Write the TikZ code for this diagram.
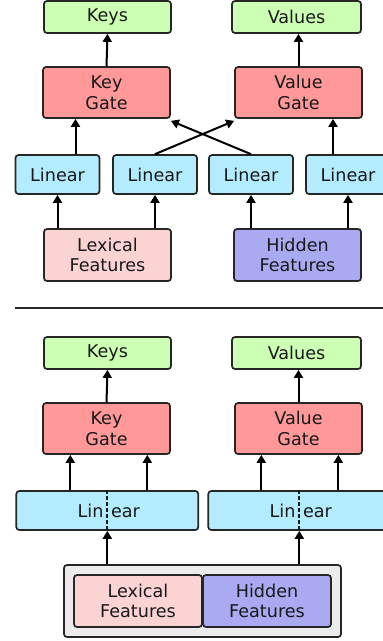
\documentclass[tikz,border=0pt]{standalone}
\usepackage{fontspec}
\setmainfont{DejaVu Sans}
\usetikzlibrary{arrows.meta}
\definecolor{outgreen}{HTML}{CCFFB3}
\definecolor{gatered}{HTML}{FF9999}
\definecolor{lincyan}{HTML}{B3ECFF}
\definecolor{lexpink}{HTML}{FCD3D3}
\definecolor{hidblue}{HTML}{AAAAF2}
\definecolor{grpgray}{HTML}{ECECEC}
\tikzset{
  blk/.style={draw=black!85, line width=1.7pt, rounded corners=3pt, inner sep=0pt,
    align=center, text=black!90, font=\fontsize{17.6}{20.5}\selectfont},
  arr/.style={-{Triangle[width=9pt,length=8pt]}, line width=2pt},
  splitline/.style={line width=1.7pt, dash pattern=on 4pt off 2pt, black!90}
}
\newcommand\splittext{\llap{Lin\kern3.8pt}\rlap{\kern3.8pt ear}}
\begin{document}
\begin{tikzpicture}[x=1pt,y=-1pt]
\useasboundingbox (0,0) rectangle (383,641);
% upper part
\node[blk, fill=outgreen, minimum width=127pt, minimum height=32pt] (keysA) at (107.5,17) {Keys};
\node[blk, fill=outgreen, minimum width=129pt, minimum height=32pt] (valsA) at (296.5,17) {Values};
\node[blk, fill=gatered, minimum width=127pt, minimum height=51pt] (kgateA) at (106.5,92.5) {Key\\Gate};
\node[blk, fill=gatered, minimum width=127pt, minimum height=51pt] (vgateA) at (298.5,92.5) {Value\\Gate};
\foreach \i/\x in {1/57.5,2/155,3/251,4/348} {
    \node[blk, fill=lincyan, minimum width=84pt, minimum height=39pt] (linA\i) at (\x,174.5) {Linear};
}
\node[blk, fill=lexpink, minimum width=127pt, minimum height=52pt] (lexA) at (107.5,255) {Lexical\\Features};
\node[blk, fill=hidblue, minimum width=127pt, minimum height=52pt] (hidA) at (297.5,255) {Hidden\\Features};
\draw[arr] (lexA.north -| linA1.south) -- (linA1.south);
\draw[arr] (lexA.north -| linA2.south) -- (linA2.south);
\draw[arr] (hidA.north -| linA3.south) -- (linA3.south);
\draw[arr] (hidA.north -| linA4.south) -- (linA4.south);
\draw[arr] ([xshift=18pt]linA1.north) -- ([xshift=18pt]linA1.north |- kgateA.south);
\draw[arr] ([xshift=-15pt]linA4.north) -- ([xshift=-15pt]linA4.north |- vgateA.south);
\draw[arr] (linA2.north) -- ([yshift=-2pt]vgateA.south west);
\draw[arr] (linA3.north) -- ([yshift=-2pt]kgateA.south east);
\draw[arr] (kgateA.north) -- (keysA.south);
\draw[arr] (vgateA.north) -- (vgateA.north |- valsA.south);
% separator
\draw[line width=1.7pt, black!85] (15,308) -- (390,308);
% lower part
\node[blk, fill=outgreen, minimum width=127pt, minimum height=32pt] (keysB) at (107.5,353) {Keys};
\node[blk, fill=outgreen, minimum width=129pt, minimum height=32pt] (valsB) at (296.5,353) {Values};
\node[blk, fill=gatered, minimum width=127pt, minimum height=51pt] (kgateB) at (106.5,428.5) {Key\\Gate};
\node[blk, fill=gatered, minimum width=127pt, minimum height=51pt] (vgateB) at (298.5,428.5) {Value\\Gate};
\node[blk, fill=lincyan, minimum width=182pt, minimum height=39pt] (linB1) at (107.3,510.5) {\splittext};
\node[blk, fill=lincyan, minimum width=182pt, minimum height=39pt] (linB2) at (299.3,510.5) {\splittext};
\draw[splitline] (linB1.north) -- (linB1.south);
\draw[splitline] (linB2.north) -- (linB2.south);
\node[blk, fill=grpgray, minimum width=277pt, minimum height=72pt] (grpB) at (202.5,601) {};
\node[blk, fill=lexpink, minimum width=128pt, minimum height=52pt] (lexB) at (138,601) {Lexical\\Features};
\node[blk, fill=hidblue, minimum width=128pt, minimum height=52pt] (hidB) at (267,601) {Hidden\\Features};
\draw[arr] (grpB.north -| linB1.south) -- (linB1.south);
\draw[arr] (grpB.north -| linB2.south) -- (linB2.south);
\foreach \s in {-37,40} {
    \draw[arr] ([xshift=\s pt]linB1.north) -- ([xshift=\s pt]linB1.north |- kgateB.south);
}
\foreach \s in {-38,39} {
    \draw[arr] ([xshift=\s pt]linB2.north) -- ([xshift=\s pt]linB2.north |- vgateB.south);
}
\draw[arr] (kgateB.north) -- (keysB.south);
\draw[arr] (vgateB.north) -- (vgateB.north |- valsB.south);
\end{tikzpicture}
\end{document}
